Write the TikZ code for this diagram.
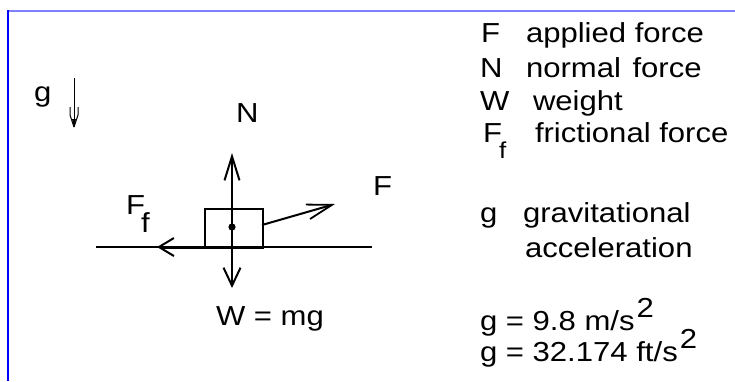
\documentclass[tikz,border=0pt]{standalone}
\usepackage{fontspec}
\setmainfont{Liberation Sans}[FakeStretch=1.13]
\usetikzlibrary{arrows.meta}
\begin{document}
\begin{tikzpicture}[x=1pt,y=-1pt,
  txt/.style={anchor=base west, inner sep=0pt, outer sep=0pt, font=\fontsize{27.5}{32}\selectfont},
  subtxt/.style={anchor=base west, inner sep=0pt, outer sep=0pt, font=\fontsize{23}{27}\selectfont},
  force/.style={line width=2.2pt},
  ground/.style={line width=1.3pt},
  body/.style={draw, line width=2pt},
  barbN/.style={-{Straight Barb[length=24pt,width=15pt,line width=2pt]}},
  barbW/.style={-{Straight Barb[length=18pt,width=17pt,line width=2pt]}},
  barbFf/.style={-{Straight Barb[length=15pt,width=18pt,line width=2pt]}},
  barbF/.style={-{Straight Barb[length=25pt,width=15pt,line width=1.8pt]}}
]
\useasboundingbox (0,0) rectangle (735,381);
\fill[white] (0,0) rectangle (735,381);
% frame
\coordinate (fr0) at (8,10.5);
\coordinate (fr1) at (735,10.5);
\coordinate (fr2) at (8,381);
\draw[color=blue!50, line width=2pt] (fr0) -- (fr1);
\draw[color=blue, line width=1.5pt] (8,10) -- (fr2);

% gravity arrow
\node[txt] (glab) at (34,101) {g};
\coordinate (gtop) at (74,78);
\coordinate (gtip) at (74,127);
\draw[line width=1pt] (gtop) -- (gtip);
\draw[line width=1pt] (70,107) -- (70,115) -- (gtip);
\draw[line width=1pt] (78,107) -- (78,115) -- (gtip);
\fill (72,119) -- (76,119) -- (gtip) -- cycle;

% ground
\coordinate (gl) at (96,247);
\coordinate (gr) at (372,247);
\draw[ground] (gl) -- (gr);

% block
\node[body, minimum width=58pt, minimum height=38pt, inner sep=0pt, anchor=north west] (box) at (204,208) {};
\coordinate (c) at (232,227);
\coordinate (ntip) at (232,153);
\coordinate (wtip) at (232,288);
\coordinate (fftip) at (157,247);
\coordinate (ffstart) at (204,247);
\coordinate (fstart) at (262,225);
\coordinate (ftip) at (335,204);

\draw[force, barbN] (c) -- (ntip);
\draw[force, barbW] (c) -- (wtip);
\draw[line width=3pt, barbFf] (ffstart) -- (fftip);
\draw[line width=2pt] (box.south west) -- (box.south east);
\draw[line width=2pt, barbF] (fstart) -- (ftip);
\fill (c) circle (3.6pt);

% labels
\node[txt] (Nlab) at (236,122) {N};
\node[txt] (Flab) at (373,195) {F};
\node[txt] (Fflab) at (126,214) {F};
\node[txt] (Ffsub) at (141,232) {f};
\node[txt] (Wlab) at (216,325) {W = mg};

% legend
\node[txt] (l1a) at (481,42) {F};
\node[txt] (l1b) at (526,42) {applied force};
\node[txt] (l2a) at (480,77) {N};
\node[txt] (l2b) at (526,77) {normal\hspace{0.42em}force};
\node[txt] (l3a) at (480,110) {W};
\node[txt] (l3b) at (533,110) {weight};
\node[txt] (l4a) at (483,142) {F};
\node[subtxt] (l4s) at (499,158) {f};
\node[txt] (l4b) at (535,142) {frictional force};
\node[txt] (l5a) at (480,222) {g};
\node[txt] (l5b) at (523,222) {gravitational};
\node[txt] (l6) at (525,257) {acceleration};
\node[txt] (l7) at (480,330) {g = 9.8 m/s};
\node[txt, anchor=base west] (l7s) at ([shift={(2,-13)}]l7.base east) {2};
\node[txt] (l8) at (480,361) {g = 32.174 ft/s};
\node[txt, anchor=base west] (l8s) at ([shift={(2,-13)}]l8.base east) {2};
\end{tikzpicture}
\end{document}
